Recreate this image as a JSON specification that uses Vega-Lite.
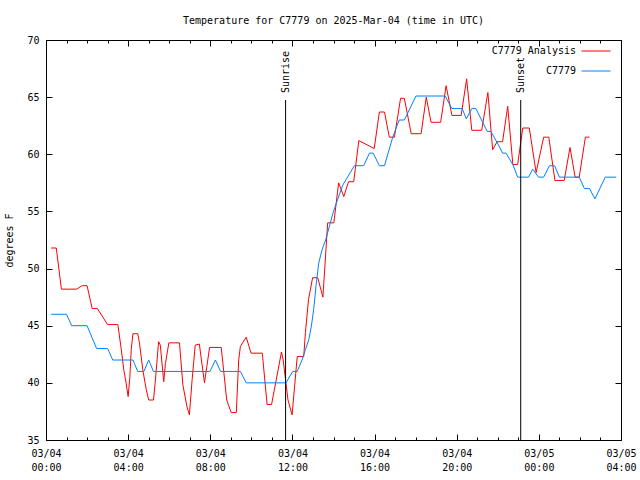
{
  "$schema": "https://vega.github.io/schema/vega-lite/v6.json",
  "width": 575,
  "height": 400,
  "autosize": {"type": "none"},
  "padding": {"left": 46, "top": 40, "right": 19, "bottom": 40},
  "background": "white",
  "title": {"text": "Temperature for C7779 on 2025-Mar-04 (time in UTC)", "font": "DejaVu Sans Mono", "fontSize": 10, "fontWeight": "normal", "anchor": "middle", "offset": 9, "color": "black"},
  "config": {
    "view": {"stroke": "black", "strokeWidth": 1},
    "axis": {"labelFont": "DejaVu Sans Mono", "labelFontSize": 10, "labelColor": "black", "titleFont": "DejaVu Sans Mono", "titleFontSize": 10, "titleFontWeight": "normal", "titleColor": "black", "grid": false, "domain": false, "tickColor": "black", "tickWidth": 1},
    "legend": {"orient": "none", "legendX": 535, "legendY": -4, "title": null, "symbolType": "stroke", "symbolSize": 841, "symbolStrokeWidth": 1, "labelFont": "DejaVu Sans Mono", "labelFontSize": 10, "labelColor": "black", "labelAlign": "right", "labelOffset": -35, "rowPadding": -17, "padding": 0}
  },
  "datasets": {
    "temps": [
      {"time": "2025-03-04T00:15:00Z", "temp": 51.8, "series": "C7779 Analysis"},
      {"time": "2025-03-04T00:30:00Z", "temp": 51.8, "series": "C7779 Analysis"},
      {"time": "2025-03-04T00:45:00Z", "temp": 48.2, "series": "C7779 Analysis"},
      {"time": "2025-03-04T01:30:00Z", "temp": 48.2, "series": "C7779 Analysis"},
      {"time": "2025-03-04T01:45:00Z", "temp": 48.5, "series": "C7779 Analysis"},
      {"time": "2025-03-04T02:00:00Z", "temp": 48.5, "series": "C7779 Analysis"},
      {"time": "2025-03-04T02:15:00Z", "temp": 46.5, "series": "C7779 Analysis"},
      {"time": "2025-03-04T02:30:00Z", "temp": 46.5, "series": "C7779 Analysis"},
      {"time": "2025-03-04T03:00:00Z", "temp": 45.1, "series": "C7779 Analysis"},
      {"time": "2025-03-04T03:30:00Z", "temp": 45.1, "series": "C7779 Analysis"},
      {"time": "2025-03-04T03:40:00Z", "temp": 42.9, "series": "C7779 Analysis"},
      {"time": "2025-03-04T03:47:00Z", "temp": 41.2, "series": "C7779 Analysis"},
      {"time": "2025-03-04T03:54:00Z", "temp": 40.0, "series": "C7779 Analysis"},
      {"time": "2025-03-04T04:00:00Z", "temp": 38.8, "series": "C7779 Analysis"},
      {"time": "2025-03-04T04:05:00Z", "temp": 40.5, "series": "C7779 Analysis"},
      {"time": "2025-03-04T04:09:00Z", "temp": 42.9, "series": "C7779 Analysis"},
      {"time": "2025-03-04T04:14:00Z", "temp": 44.3, "series": "C7779 Analysis"},
      {"time": "2025-03-04T04:28:00Z", "temp": 44.3, "series": "C7779 Analysis"},
      {"time": "2025-03-04T04:33:00Z", "temp": 43.5, "series": "C7779 Analysis"},
      {"time": "2025-03-04T04:43:00Z", "temp": 41.1, "series": "C7779 Analysis"},
      {"time": "2025-03-04T04:53:00Z", "temp": 39.4, "series": "C7779 Analysis"},
      {"time": "2025-03-04T05:00:00Z", "temp": 38.5, "series": "C7779 Analysis"},
      {"time": "2025-03-04T05:14:00Z", "temp": 38.5, "series": "C7779 Analysis"},
      {"time": "2025-03-04T05:19:00Z", "temp": 40.0, "series": "C7779 Analysis"},
      {"time": "2025-03-04T05:29:00Z", "temp": 43.6, "series": "C7779 Analysis"},
      {"time": "2025-03-04T05:34:00Z", "temp": 43.3, "series": "C7779 Analysis"},
      {"time": "2025-03-04T05:38:00Z", "temp": 42.0, "series": "C7779 Analysis"},
      {"time": "2025-03-04T05:44:00Z", "temp": 40.1, "series": "C7779 Analysis"},
      {"time": "2025-03-04T05:49:00Z", "temp": 41.7, "series": "C7779 Analysis"},
      {"time": "2025-03-04T05:59:00Z", "temp": 43.5, "series": "C7779 Analysis"},
      {"time": "2025-03-04T06:30:00Z", "temp": 43.5, "series": "C7779 Analysis"},
      {"time": "2025-03-04T06:40:00Z", "temp": 39.8, "series": "C7779 Analysis"},
      {"time": "2025-03-04T06:52:00Z", "temp": 37.9, "series": "C7779 Analysis"},
      {"time": "2025-03-04T06:59:00Z", "temp": 37.2, "series": "C7779 Analysis"},
      {"time": "2025-03-04T07:07:00Z", "temp": 40.3, "series": "C7779 Analysis"},
      {"time": "2025-03-04T07:16:00Z", "temp": 43.3, "series": "C7779 Analysis"},
      {"time": "2025-03-04T07:28:00Z", "temp": 43.4, "series": "C7779 Analysis"},
      {"time": "2025-03-04T07:43:00Z", "temp": 40.0, "series": "C7779 Analysis"},
      {"time": "2025-03-04T07:58:00Z", "temp": 43.1, "series": "C7779 Analysis"},
      {"time": "2025-03-04T08:32:00Z", "temp": 43.1, "series": "C7779 Analysis"},
      {"time": "2025-03-04T08:48:00Z", "temp": 38.5, "series": "C7779 Analysis"},
      {"time": "2025-03-04T09:01:00Z", "temp": 37.4, "series": "C7779 Analysis"},
      {"time": "2025-03-04T09:16:00Z", "temp": 37.4, "series": "C7779 Analysis"},
      {"time": "2025-03-04T09:23:00Z", "temp": 42.0, "series": "C7779 Analysis"},
      {"time": "2025-03-04T09:28:00Z", "temp": 43.2, "series": "C7779 Analysis"},
      {"time": "2025-03-04T09:45:00Z", "temp": 44.0, "series": "C7779 Analysis"},
      {"time": "2025-03-04T09:59:00Z", "temp": 42.6, "series": "C7779 Analysis"},
      {"time": "2025-03-04T10:32:00Z", "temp": 42.6, "series": "C7779 Analysis"},
      {"time": "2025-03-04T10:46:00Z", "temp": 38.1, "series": "C7779 Analysis"},
      {"time": "2025-03-04T10:59:00Z", "temp": 38.1, "series": "C7779 Analysis"},
      {"time": "2025-03-04T11:28:00Z", "temp": 42.7, "series": "C7779 Analysis"},
      {"time": "2025-03-04T11:33:00Z", "temp": 42.0, "series": "C7779 Analysis"},
      {"time": "2025-03-04T11:47:00Z", "temp": 38.5, "series": "C7779 Analysis"},
      {"time": "2025-03-04T11:59:00Z", "temp": 37.2, "series": "C7779 Analysis"},
      {"time": "2025-03-04T12:14:00Z", "temp": 42.3, "series": "C7779 Analysis"},
      {"time": "2025-03-04T12:33:00Z", "temp": 42.3, "series": "C7779 Analysis"},
      {"time": "2025-03-04T12:38:00Z", "temp": 44.4, "series": "C7779 Analysis"},
      {"time": "2025-03-04T12:47:00Z", "temp": 47.3, "series": "C7779 Analysis"},
      {"time": "2025-03-04T12:59:00Z", "temp": 49.2, "series": "C7779 Analysis"},
      {"time": "2025-03-04T13:14:00Z", "temp": 49.2, "series": "C7779 Analysis"},
      {"time": "2025-03-04T13:29:00Z", "temp": 47.5, "series": "C7779 Analysis"},
      {"time": "2025-03-04T13:43:00Z", "temp": 54.0, "series": "C7779 Analysis"},
      {"time": "2025-03-04T14:01:00Z", "temp": 54.0, "series": "C7779 Analysis"},
      {"time": "2025-03-04T14:15:00Z", "temp": 57.5, "series": "C7779 Analysis"},
      {"time": "2025-03-04T14:30:00Z", "temp": 56.3, "series": "C7779 Analysis"},
      {"time": "2025-03-04T14:44:00Z", "temp": 57.6, "series": "C7779 Analysis"},
      {"time": "2025-03-04T14:59:00Z", "temp": 57.6, "series": "C7779 Analysis"},
      {"time": "2025-03-04T15:14:00Z", "temp": 61.2, "series": "C7779 Analysis"},
      {"time": "2025-03-04T15:59:00Z", "temp": 60.5, "series": "C7779 Analysis"},
      {"time": "2025-03-04T16:14:00Z", "temp": 63.7, "series": "C7779 Analysis"},
      {"time": "2025-03-04T16:29:00Z", "temp": 63.7, "series": "C7779 Analysis"},
      {"time": "2025-03-04T16:43:00Z", "temp": 61.5, "series": "C7779 Analysis"},
      {"time": "2025-03-04T16:58:00Z", "temp": 61.5, "series": "C7779 Analysis"},
      {"time": "2025-03-04T17:16:00Z", "temp": 64.9, "series": "C7779 Analysis"},
      {"time": "2025-03-04T17:27:00Z", "temp": 64.9, "series": "C7779 Analysis"},
      {"time": "2025-03-04T17:47:00Z", "temp": 61.8, "series": "C7779 Analysis"},
      {"time": "2025-03-04T18:16:00Z", "temp": 61.8, "series": "C7779 Analysis"},
      {"time": "2025-03-04T18:31:00Z", "temp": 65.0, "series": "C7779 Analysis"},
      {"time": "2025-03-04T18:45:00Z", "temp": 62.8, "series": "C7779 Analysis"},
      {"time": "2025-03-04T19:13:00Z", "temp": 62.8, "series": "C7779 Analysis"},
      {"time": "2025-03-04T19:29:00Z", "temp": 66.0, "series": "C7779 Analysis"},
      {"time": "2025-03-04T19:46:00Z", "temp": 63.4, "series": "C7779 Analysis"},
      {"time": "2025-03-04T20:13:00Z", "temp": 63.4, "series": "C7779 Analysis"},
      {"time": "2025-03-04T20:29:00Z", "temp": 66.6, "series": "C7779 Analysis"},
      {"time": "2025-03-04T20:44:00Z", "temp": 62.1, "series": "C7779 Analysis"},
      {"time": "2025-03-04T21:13:00Z", "temp": 62.1, "series": "C7779 Analysis"},
      {"time": "2025-03-04T21:31:00Z", "temp": 65.4, "series": "C7779 Analysis"},
      {"time": "2025-03-04T21:45:00Z", "temp": 60.4, "series": "C7779 Analysis"},
      {"time": "2025-03-04T21:58:00Z", "temp": 61.1, "series": "C7779 Analysis"},
      {"time": "2025-03-04T22:14:00Z", "temp": 61.1, "series": "C7779 Analysis"},
      {"time": "2025-03-04T22:29:00Z", "temp": 64.2, "series": "C7779 Analysis"},
      {"time": "2025-03-04T22:44:00Z", "temp": 59.1, "series": "C7779 Analysis"},
      {"time": "2025-03-04T22:58:00Z", "temp": 59.1, "series": "C7779 Analysis"},
      {"time": "2025-03-04T23:13:00Z", "temp": 62.3, "series": "C7779 Analysis"},
      {"time": "2025-03-04T23:32:00Z", "temp": 62.3, "series": "C7779 Analysis"},
      {"time": "2025-03-04T23:52:00Z", "temp": 58.4, "series": "C7779 Analysis"},
      {"time": "2025-03-05T00:14:00Z", "temp": 61.5, "series": "C7779 Analysis"},
      {"time": "2025-03-05T00:29:00Z", "temp": 61.5, "series": "C7779 Analysis"},
      {"time": "2025-03-05T00:47:00Z", "temp": 57.7, "series": "C7779 Analysis"},
      {"time": "2025-03-05T01:14:00Z", "temp": 57.7, "series": "C7779 Analysis"},
      {"time": "2025-03-05T01:31:00Z", "temp": 60.6, "series": "C7779 Analysis"},
      {"time": "2025-03-05T01:46:00Z", "temp": 58.0, "series": "C7779 Analysis"},
      {"time": "2025-03-05T01:58:00Z", "temp": 58.0, "series": "C7779 Analysis"},
      {"time": "2025-03-05T02:16:00Z", "temp": 61.5, "series": "C7779 Analysis"},
      {"time": "2025-03-05T02:28:00Z", "temp": 61.5, "series": "C7779 Analysis"},
      {"time": "2025-03-04T00:15:00Z", "temp": 46.0, "series": "C7779"},
      {"time": "2025-03-04T01:00:00Z", "temp": 46.0, "series": "C7779"},
      {"time": "2025-03-04T01:15:00Z", "temp": 45.0, "series": "C7779"},
      {"time": "2025-03-04T02:00:00Z", "temp": 45.0, "series": "C7779"},
      {"time": "2025-03-04T02:28:00Z", "temp": 43.0, "series": "C7779"},
      {"time": "2025-03-04T03:00:00Z", "temp": 43.0, "series": "C7779"},
      {"time": "2025-03-04T03:15:00Z", "temp": 42.0, "series": "C7779"},
      {"time": "2025-03-04T04:14:00Z", "temp": 42.0, "series": "C7779"},
      {"time": "2025-03-04T04:28:00Z", "temp": 41.0, "series": "C7779"},
      {"time": "2025-03-04T04:46:00Z", "temp": 41.0, "series": "C7779"},
      {"time": "2025-03-04T05:00:00Z", "temp": 42.0, "series": "C7779"},
      {"time": "2025-03-04T05:14:00Z", "temp": 41.0, "series": "C7779"},
      {"time": "2025-03-04T07:59:00Z", "temp": 41.0, "series": "C7779"},
      {"time": "2025-03-04T08:15:00Z", "temp": 42.0, "series": "C7779"},
      {"time": "2025-03-04T08:30:00Z", "temp": 41.0, "series": "C7779"},
      {"time": "2025-03-04T09:28:00Z", "temp": 41.0, "series": "C7779"},
      {"time": "2025-03-04T09:45:00Z", "temp": 40.0, "series": "C7779"},
      {"time": "2025-03-04T11:41:00Z", "temp": 40.0, "series": "C7779"},
      {"time": "2025-03-04T12:01:00Z", "temp": 41.0, "series": "C7779"},
      {"time": "2025-03-04T12:14:00Z", "temp": 41.0, "series": "C7779"},
      {"time": "2025-03-04T12:28:00Z", "temp": 42.0, "series": "C7779"},
      {"time": "2025-03-04T12:38:00Z", "temp": 42.9, "series": "C7779"},
      {"time": "2025-03-04T12:48:00Z", "temp": 43.8, "series": "C7779"},
      {"time": "2025-03-04T12:55:00Z", "temp": 44.9, "series": "C7779"},
      {"time": "2025-03-04T13:02:00Z", "temp": 46.4, "series": "C7779"},
      {"time": "2025-03-04T13:09:00Z", "temp": 48.5, "series": "C7779"},
      {"time": "2025-03-04T13:17:00Z", "temp": 50.5, "series": "C7779"},
      {"time": "2025-03-04T13:27:00Z", "temp": 51.7, "series": "C7779"},
      {"time": "2025-03-04T13:37:00Z", "temp": 52.5, "series": "C7779"},
      {"time": "2025-03-04T13:58:00Z", "temp": 54.8, "series": "C7779"},
      {"time": "2025-03-04T14:08:00Z", "temp": 55.7, "series": "C7779"},
      {"time": "2025-03-04T14:27:00Z", "temp": 57.3, "series": "C7779"},
      {"time": "2025-03-04T15:01:00Z", "temp": 59.0, "series": "C7779"},
      {"time": "2025-03-04T15:28:00Z", "temp": 59.0, "series": "C7779"},
      {"time": "2025-03-04T15:45:00Z", "temp": 60.1, "series": "C7779"},
      {"time": "2025-03-04T15:56:00Z", "temp": 60.1, "series": "C7779"},
      {"time": "2025-03-04T16:14:00Z", "temp": 59.0, "series": "C7779"},
      {"time": "2025-03-04T16:29:00Z", "temp": 59.0, "series": "C7779"},
      {"time": "2025-03-04T16:53:00Z", "temp": 61.5, "series": "C7779"},
      {"time": "2025-03-04T17:12:00Z", "temp": 63.0, "series": "C7779"},
      {"time": "2025-03-04T17:27:00Z", "temp": 63.0, "series": "C7779"},
      {"time": "2025-03-04T18:01:00Z", "temp": 65.1, "series": "C7779"},
      {"time": "2025-03-04T19:26:00Z", "temp": 65.1, "series": "C7779"},
      {"time": "2025-03-04T19:46:00Z", "temp": 64.0, "series": "C7779"},
      {"time": "2025-03-04T20:16:00Z", "temp": 64.0, "series": "C7779"},
      {"time": "2025-03-04T20:28:00Z", "temp": 63.1, "series": "C7779"},
      {"time": "2025-03-04T20:44:00Z", "temp": 64.0, "series": "C7779"},
      {"time": "2025-03-04T20:56:00Z", "temp": 64.0, "series": "C7779"},
      {"time": "2025-03-04T21:29:00Z", "temp": 62.0, "series": "C7779"},
      {"time": "2025-03-04T21:40:00Z", "temp": 62.0, "series": "C7779"},
      {"time": "2025-03-04T22:04:00Z", "temp": 60.7, "series": "C7779"},
      {"time": "2025-03-04T22:14:00Z", "temp": 60.1, "series": "C7779"},
      {"time": "2025-03-04T22:24:00Z", "temp": 60.1, "series": "C7779"},
      {"time": "2025-03-04T22:44:00Z", "temp": 59.1, "series": "C7779"},
      {"time": "2025-03-04T22:58:00Z", "temp": 58.0, "series": "C7779"},
      {"time": "2025-03-04T23:30:00Z", "temp": 58.0, "series": "C7779"},
      {"time": "2025-03-04T23:42:00Z", "temp": 58.7, "series": "C7779"},
      {"time": "2025-03-04T23:59:00Z", "temp": 58.0, "series": "C7779"},
      {"time": "2025-03-05T00:14:00Z", "temp": 58.0, "series": "C7779"},
      {"time": "2025-03-05T00:31:00Z", "temp": 59.0, "series": "C7779"},
      {"time": "2025-03-05T00:46:00Z", "temp": 59.0, "series": "C7779"},
      {"time": "2025-03-05T01:00:00Z", "temp": 58.0, "series": "C7779"},
      {"time": "2025-03-05T01:58:00Z", "temp": 58.0, "series": "C7779"},
      {"time": "2025-03-05T02:13:00Z", "temp": 57.0, "series": "C7779"},
      {"time": "2025-03-05T02:28:00Z", "temp": 57.0, "series": "C7779"},
      {"time": "2025-03-05T02:44:00Z", "temp": 56.1, "series": "C7779"},
      {"time": "2025-03-05T03:14:00Z", "temp": 58.0, "series": "C7779"},
      {"time": "2025-03-05T03:46:00Z", "temp": 58.0, "series": "C7779"}
    ],
    "sun": [
      {"time": "2025-03-04T11:40:00Z", "label": "Sunrise"},
      {"time": "2025-03-04T23:07:00Z", "label": "Sunset"}
    ]
  },
  "resolve": {"axis": {"x": "independent", "y": "independent"}},
  "layer": [
    {
      "data": {"name": "temps"},
      "mark": {"type": "line", "strokeWidth": 1},
      "encoding": {
        "x": {"field": "time", "type": "temporal",
          "scale": {"domain": [1741046400000, 1741147200000]},
          "axis": {"title": null,
            "values": [1741046400000, 1741060800000, 1741075200000, 1741089600000, 1741104000000, 1741118400000, 1741132800000, 1741147200000],
            "labelExpr": "[utcFormat(datum.value, '%m/%d'), utcFormat(datum.value, '%H:%M')]",
            "tickSize": -6, "labelPadding": 14, "labelLineHeight": 14, "labelFlush": false, "labelOverlap": false}},
        "y": {"field": "temp", "type": "quantitative",
          "scale": {"domain": [35, 70], "nice": false, "zero": false},
          "axis": {"title": "degrees F", "values": [35, 40, 45, 50, 55, 60, 65, 70], "tickSize": -6, "labelPadding": 13, "titlePadding": 12}},
        "color": {"field": "series", "type": "nominal", "sort": null,
          "scale": {"domain": ["C7779 Analysis", "C7779"], "range": ["#ff0000", "#0080ff"]}}
      }
    },
    {
      "data": {"name": "temps"},
      "mark": {"type": "point", "opacity": 0},
      "encoding": {
        "x": {"field": "time", "type": "temporal",
          "axis": {"orient": "top", "title": null, "labels": false, "tickSize": -6,
            "values": [1741046400000, 1741060800000, 1741075200000, 1741089600000, 1741104000000, 1741118400000, 1741132800000, 1741147200000]}},
        "y": {"field": "temp", "type": "quantitative",
          "axis": {"orient": "right", "title": null, "labels": false, "tickSize": -6, "values": [35, 40, 45, 50, 55, 60, 65, 70]}}
      }
    },
    {
      "data": {"name": "temps"},
      "mark": {"type": "point", "opacity": 0},
      "encoding": {
        "x": {"field": "time", "type": "temporal",
          "axis": {"orient": "bottom", "title": null, "labels": false, "tickSize": -3, "tickCount": 28}},
        "y": {"field": "temp", "type": "quantitative", "axis": null}
      }
    },
    {
      "data": {"name": "temps"},
      "mark": {"type": "point", "opacity": 0},
      "encoding": {
        "x": {"field": "time", "type": "temporal",
          "axis": {"orient": "top", "title": null, "labels": false, "tickSize": -3, "tickCount": 28}},
        "y": {"field": "temp", "type": "quantitative", "axis": null}
      }
    },
    {
      "data": {"name": "sun"},
      "mark": {"type": "rule", "color": "black", "strokeWidth": 1},
      "encoding": {
        "x": {"field": "time", "type": "temporal", "axis": null},
        "y": {"datum": 35, "axis": null},
        "y2": {"datum": 64.75}
      }
    },
    {
      "data": {"name": "sun"},
      "mark": {"type": "text", "angle": 270, "align": "left", "baseline": "middle", "dx": 7, "font": "DejaVu Sans Mono", "fontSize": 10, "color": "black"},
      "encoding": {
        "x": {"field": "time", "type": "temporal", "axis": null},
        "y": {"datum": 64.75, "axis": null},
        "text": {"field": "label"}
      }
    }
  ]
}
